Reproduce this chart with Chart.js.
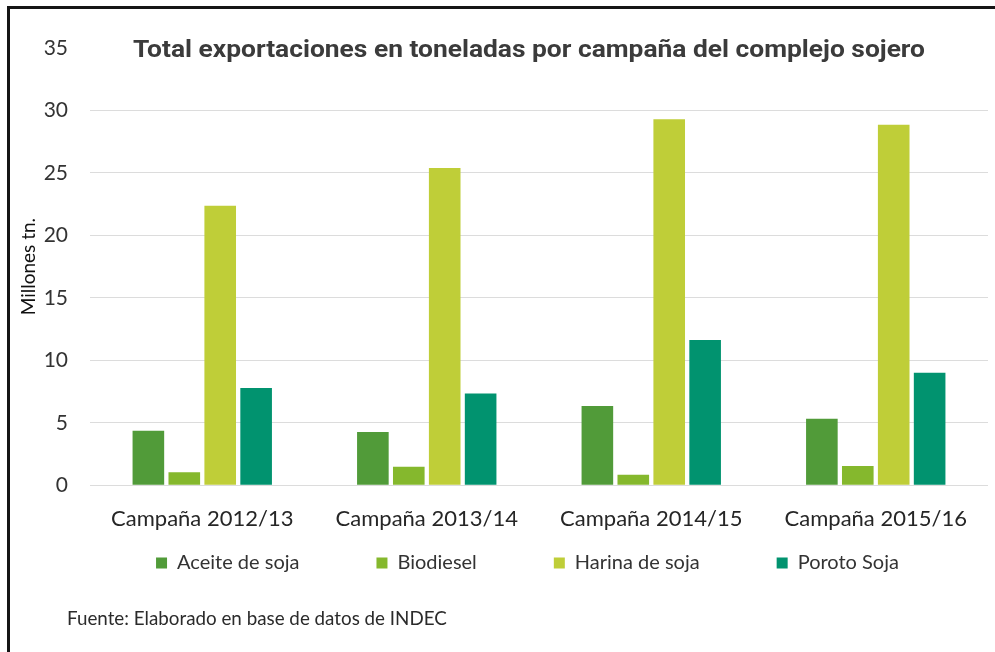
<!DOCTYPE html>
<html><head><meta charset="utf-8">
<script src="https://cdn.jsdelivr.net/npm/chart.js@4"></script>
<style>
html,body{margin:0;padding:0;background:#fff;}
#wrap{position:relative;width:995px;height:652px;overflow:hidden;}
#frame{position:absolute;left:7px;top:6px;right:-5px;bottom:-5px;border-left:3px solid #151515;border-top:3px solid #151515;pointer-events:none;}
canvas{position:absolute;left:0;top:0;}
</style></head><body>
<div id="wrap"><canvas id="c" width="995" height="652"></canvas><div id="frame"></div></div>
<script>
const categories = ['Campaña 2012/13', 'Campaña 2013/14', 'Campaña 2014/15', 'Campaña 2015/16'];
const seriesNames = ['Aceite de soja', 'Biodiesel', 'Harina de soja', 'Poroto Soja'];
const aceiteDeSoja = [4.36, 4.26, 6.34, 5.32];
const biodiesel = [1.05, 1.48, 0.84, 1.54];
const harinaDeSoja = [22.38, 25.4, 29.3, 28.86];
const porotoSoja = [7.78, 7.35, 11.62, 9.0];
const yTickValues = [0, 5, 10, 15, 20, 25, 30, 35];
const titleText = 'Total exportaciones en toneladas por campaña del complejo sojero';
const yAxisTitle = 'Millones tn.';
const sourceText = 'Fuente: Elaborado en base de datos de INDEC';

const colors = ['#519b39', '#85b82d', '#bfce38', '#01936f'];
const seriesData = [aceiteDeSoja, biodiesel, harinaDeSoja, porotoSoja];

const overlay = {
  id: 'overlay',
  afterLayout(chart) {
    const lg = chart.legend;
    if (!lg) return;
    const w = lg.right - lg.left;
    const cx = 527.5;
    lg.left = cx - w / 2; lg.right = cx + w / 2;
    const pad = lg.options.labels.padding;
    const fs = lg.options.labels.font.size;
    lg.top = 563 - pad - fs / 2;
    lg.bottom = 600;
    lg.height = lg.bottom - lg.top;
  },
  afterDraw(chart) {
    const ctx = chart.ctx;
    ctx.save();
    ctx.font = '700 24px Roboto';
    const w = ctx.measureText(titleText).width;
    ctx.translate(529, 51);
    ctx.scale(792 / w, 1);
    ctx.textAlign = 'center';
    ctx.textBaseline = 'middle';
    ctx.fillStyle = '#3b3b3b';
    ctx.fillText(titleText, 0, 0);
    ctx.restore();
    ctx.save();
    ctx.font = '18.8px Lato';
    ctx.textAlign = 'left';
    ctx.textBaseline = 'middle';
    ctx.fillStyle = '#2b2b2b';
    ctx.fillText(sourceText, 67, 619);
    ctx.restore();
  }
};

new Chart(document.getElementById('c'), {
  type: 'bar',
  data: {
    labels: categories,
    datasets: seriesNames.map((n, i) => ({
      label: n,
      data: seriesData[i],
      backgroundColor: colors[i],
      borderWidth: 0,
      categoryPercentage: 0.64,
      barPercentage: 0.88
    }))
  },
  options: {
    responsive: false,
    devicePixelRatio: 1,
    animation: false,
    layout: { padding: { top: 48, right: 7, bottom: 61.7, left: 0 } },
    plugins: {
      title: { display: false },
      tooltip: { enabled: false },
      legend: {
        position: 'bottom',
        maxHeight: 60,
        labels: {
          boxWidth: 11, boxHeight: 11, padding: 77,
          color: '#333333',
          font: { family: 'Lato', size: 20 }
        }
      }
    },
    scales: {
      x: {
        grid: { display: false, drawTicks: false },
        border: { display: false },
        ticks: { color: '#262626', padding: 20, font: { family: 'Lato', size: 22 } },
        afterFit(s) { s.height = 45; }
      },
      y: {
        min: 0, max: 35,
        afterBuildTicks(s) { s.ticks = yTickValues.map(v => ({ value: v })); },
        grid: {
          drawTicks: false,
          color: c => (c.tick && c.tick.value === 35) ? 'rgba(0,0,0,0)' : '#dcdcdc',
          lineWidth: 1
        },
        border: { display: false },
        ticks: { color: '#333333', padding: 22, font: { family: 'Lato', size: 21 } },
        title: {
          display: true, text: yAxisTitle, color: '#111111',
          font: { family: 'Lato', size: 19 }, padding: { top: 17, bottom: 0 }
        },
        afterFit(s) { s.width = 90; }
      }
    }
  },
  plugins: [overlay]
});
</script>
</body></html>
